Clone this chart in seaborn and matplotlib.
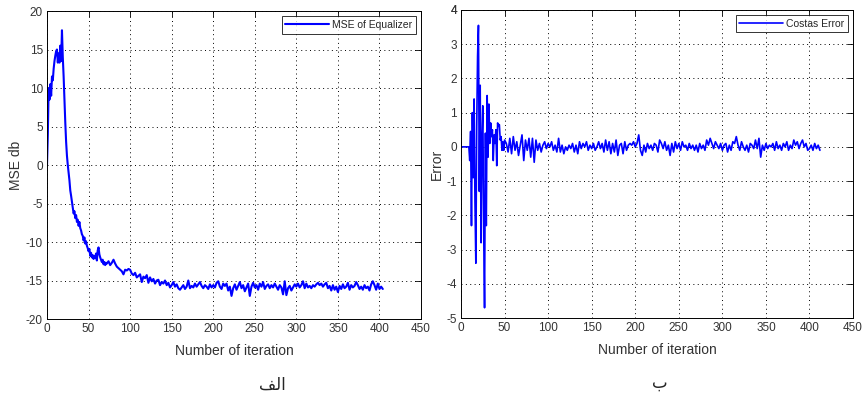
import numpy as np
import pandas as pd
import matplotlib
matplotlib.use("Agg")
import matplotlib.pyplot as plt
import seaborn as sns

# MSE of the equalizer (dB): iterations 0..71 one by one, then every 2nd iteration
mse_head = [0, 4, 10, 8.5, 10.5, 9, 11.5, 11, 12.5, 13.5, 14.2, 14.8, 15, 13.3, 14.5, 13.3,
            15.5, 13.5, 17.5, 14, 11.5, 8.5, 5.5, 3, 1.2, 0, -1, -2, -3.3, -4, -4.8, -5.5,
            -6.3, -6, -6.9, -6.5, -7.4, -7.1, -7.9, -7.4, -8.2, -8.5, -9, -9.2, -9.8, -9.4,
            -10.2, -9.9, -10.5, -10.8, -11.2, -10.9, -11.8, -11.4, -12, -11.7, -12.2, -11.8,
            -12.1, -11.5, -12.4, -11.1, -10.7, -11.6, -12, -12.3, -12.6, -12.3, -12.9, -12.6,
            -13, -12.7]
mse_tail = [-12.8, -12.5, -13, -12.7, -12.3, -12.8, -13.2, -13.4, -13.6, -13.8, -14.2, -13.6,
            -13.7, -13.5, -13.6, -14.1, -14.3, -14, -14.6, -14.4, -14.2, -15.2, -14.5, -14.7,
            -14.3, -15.3, -14.6, -15.1, -14.8, -15.4, -15, -14.9, -15.6, -15.2, -15.4, -15,
            -15.6, -15.3, -15.9, -15.6, -15.2, -15.8, -15.5, -16, -16.2, -15.9, -15.6, -16.1,
            -15.8, -15, -16, -15.7, -15.9, -15.4, -15.8, -15.5, -15.2, -15.7, -16, -15.6,
            -15.8, -16.1, -15.5, -15.9, -15.6, -15.9, -15.3, -15.1, -15.8, -16.1, -15.4, -15.7,
            -15.4, -16.3, -15.8, -17, -16, -15.5, -16.2, -15.7, -15.2, -16, -15.6, -16.4,
            -15.9, -15.4, -17, -15.8, -15.3, -15.9, -15.6, -16.2, -15.4, -15.8, -15.2, -16.1,
            -15.7, -15.5, -16, -15.6, -15.9, -15.4, -15.8, -16.2, -15.6, -15.9, -16.8, -15.1,
            -16.9, -16, -15.7, -16.3, -15.9, -15.5, -15.8, -15.4, -15.9, -15.6, -15.1, -16,
            -15.4, -15.9, -15.7, -16, -15.6, -15.8, -15.5, -15.3, -15.6, -15.4, -15.8, -15.5,
            -15.3, -16, -15.7, -16.3, -15.6, -16.2, -15.8, -16.5, -15.7, -16.1, -15.5, -16,
            -15.8, -15.3, -16.2, -15.6, -15.9, -15.7, -15.2, -15.6, -16.1, -15.8, -16.2, -15.6,
            -16, -15.8, -16.3, -15.5, -15.1, -15.6, -16.2, -15.4, -16.1, -15.8, -16.1]
mse_tail_start = 72

# Costas loop error: iterations 0..50 one by one, then every 2nd iteration
err_head = [0, 0, 0, 0, 0, 0, 0, 0, 0, 0, -0.4, 0.45, -2.3, 1.0, -0.9, 1.4, -1.6, -3.4, 0.6,
            2.65, 3.55, -1.3, 1.8, -2.8, 0.2, 1.2, -2.4, -4.7, 0.4, -2.3, 1.5, -0.3, 1.25, 0.1,
            0.7, 0.3, 0.5, -0.4, 0.35, 0.1, 0.5, -0.55, 0.7, 0.6, 0.65, 0.2, 0.3, -0.1, 0.15,
            -0.1, 0.2]
err_tail = [0.1, -0.15, 0.25, -0.2, 0.3, -0.1, 0.15, -0.25, 0.05, 0.35, -0.4, 0.2, -0.1, 0.25,
            -0.3, 0.25, -0.45, 0.2, -0.1, 0.1, -0.15, 0.05, 0.15, -0.05, 0.1, 0.0, 0.15, -0.1,
            0.05, -0.15, 0.25, -0.15, 0.05, -0.2, 0.0, -0.1, 0.05, -0.05, 0.1, -0.15, 0.05,
            -0.2, 0.15, -0.05, 0.1, 0.0, 0.15, -0.1, 0.05, -0.05, 0.1, -0.1, 0.0, 0.15, -0.05,
            0.1, -0.15, 0.2, -0.1, 0.15, -0.2, 0.1, -0.15, 0.2, -0.25, 0.05, 0.1, -0.2, 0.15,
            -0.1, 0.05, 0.1, 0.05, 0.15, 0.0, 0.1, 0.35, -0.1, -0.25, 0.05, -0.15, 0.1, -0.05,
            0.05, -0.1, 0.1, 0.05, -0.15, 0.2, 0.1, -0.05, 0.15, -0.1, 0.05, -0.25, 0.1, -0.15,
            0.15, -0.05, 0.1, -0.1, 0.15, 0.0, 0.05, -0.1, 0.1, -0.05, 0.05, -0.1, 0.05, -0.15,
            0.1, -0.05, 0.05, -0.1, 0.2, 0.05, 0.25, 0.1, -0.05, 0.15, 0.05, -0.05, 0.1, -0.1,
            0.05, 0.1, -0.15, 0.05, -0.1, 0.15, 0.1, 0.3, 0.05, -0.1, 0.15, 0.0, -0.1, 0.05,
            -0.15, 0.1, 0.05, -0.05, 0.2, -0.05, 0.25, -0.3, 0.05, -0.1, 0.1, -0.05, 0.05, 0.0,
            0.1, -0.1, 0.15, -0.05, 0.05, -0.1, 0.1, 0.0, 0.15, -0.1, 0.05, -0.05, 0.2, 0.05,
            0.15, -0.05, 0.1, 0.2, 0.0, 0.1, -0.1, -0.05, 0.05, -0.1, 0.1, -0.05, 0.05, -0.1]
err_tail_start = 52

x_ticks = list(range(0, 451, 50))
mse_ticks = list(range(-20, 21, 5))
err_ticks = list(range(-5, 5, 1))

# Arabic captions, written as presentation forms so they show joined
cap_left = "\ufed2\ufedf\ufe8d"   # الف
cap_right = "\u0628"              # ب


def series(head, tail, tail_start):
    it = list(range(len(head))) + list(range(tail_start, tail_start + 2 * len(tail), 2))
    return pd.DataFrame({"iteration": it, "value": head + tail})


mse_df = series(mse_head, mse_tail, mse_tail_start)
err_df = series(err_head, err_tail, err_tail_start)

sns.set_style("white")
plt.rcParams["font.family"] = ["Liberation Sans", "DejaVu Sans"]
plt.rcParams["axes.unicode_minus"] = False

fig = plt.figure(figsize=(8.64, 3.99), dpi=100)
ax1 = fig.add_axes([0.0544, 0.2005, 0.4329, 0.7719])
ax2 = fig.add_axes([0.5336, 0.203, 0.4537, 0.772])


def style(ax, yticks, ylabel):
    ax.set_xlim(0, 450)
    ax.set_ylim(yticks[0], yticks[-1])
    ax.set_xticks(x_ticks)
    ax.set_yticks(yticks)
    ax.grid(True, color="black", linestyle=(0, (1, 3.5)), linewidth=0.7)
    ax.tick_params(direction="in", length=4, width=0.6, labelsize=8.5,
                   top=True, right=True, colors="black", labelcolor="#333333", pad=3)
    for s in ax.spines.values():
        s.set_color("black")
        s.set_linewidth(0.7)
    ax.set_xlabel("Number of iteration", fontsize=10, labelpad=6, color="#333333")
    ax.set_ylabel(ylabel, fontsize=10, labelpad=2, color="#333333")
    leg = ax.legend(loc="upper right", fontsize=7.5, frameon=True, fancybox=False,
                    handlelength=4.2, borderpad=0.35, handletextpad=0.3,
                    borderaxespad=0.5)
    leg.get_frame().set_edgecolor("black")
    leg.get_frame().set_linewidth(0.7)


sns.lineplot(data=mse_df, x="iteration", y="value", ax=ax1, color="#0000ff",
             linewidth=1.5, label="MSE of Equalizer", estimator=None)
style(ax1, mse_ticks, "MSE db")

sns.lineplot(data=err_df, x="iteration", y="value", ax=ax2, color="#0000ff",
             linewidth=1.2, label="Costas Error", estimator=None)
style(ax2, err_ticks + [4], "Error")
ax2.set_ylim(-5, 4)

fig.text(0.315, 0.035, cap_left, family="DejaVu Sans", fontsize=12, ha="center", va="center")
fig.text(0.764, 0.04, cap_right, family="DejaVu Sans", fontsize=12, ha="center", va="center")

fig.savefig("out.png", dpi=100, facecolor="white")
